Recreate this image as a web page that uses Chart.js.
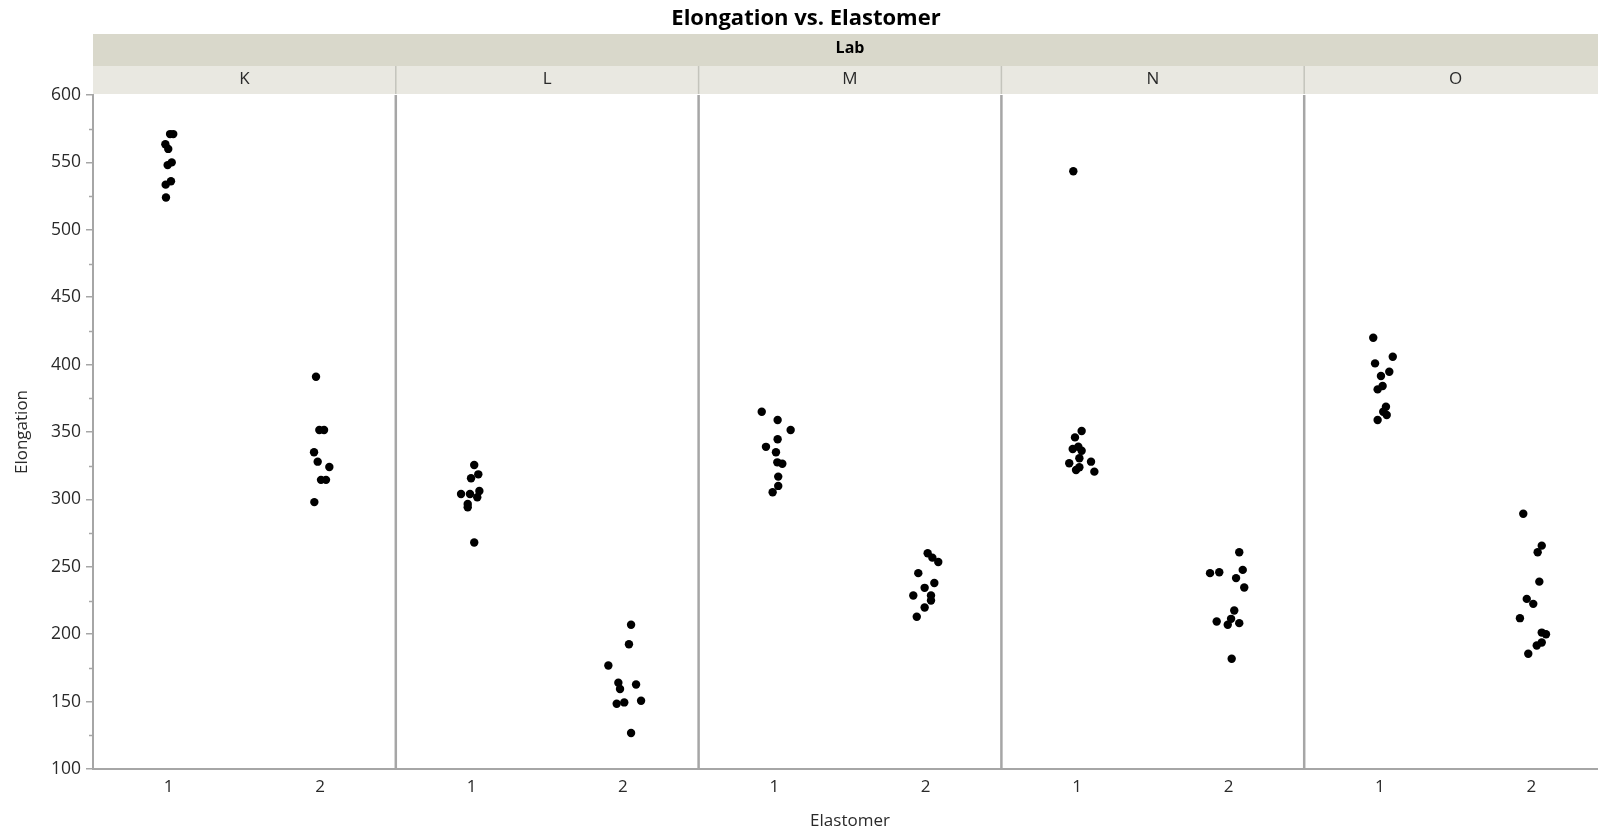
<!DOCTYPE html>
<html>
<head>
<meta charset="utf-8">
<script src="https://cdn.jsdelivr.net/npm/chart.js@4.4.1/dist/chart.umd.min.js"></script>
<style>
  html, body { margin: 0; padding: 0; background: #ffffff; overflow: hidden; }
  #wrap { position: absolute; left: 0; top: 0; width: 1612px; height: 832px; }
</style>
</head>
<body>
<div id="wrap"><canvas id="c" width="1612" height="832"></canvas></div>
<script>
// ---------------- DATA ----------------
const chartTitle = 'Elongation vs. Elastomer';
const facetTitle = 'Lab';
const labs = ['K', 'L', 'M', 'N', 'O'];
const elastomers = ['1', '2'];
const xAxisTitle = 'Elastomer';
const yAxisTitle = 'Elongation';
const yTickValues = [100, 150, 200, 250, 300, 350, 400, 450, 500, 550, 600];

// Elongation values per Lab / Elastomer
const K_1 = [571, 571, 563.5, 560, 548, 550, 533.5, 536, 524];
const K_2 = [391, 351.5, 351.5, 335, 328, 324, 314.5, 314.5, 298];
const L_1 = [325.5, 318.6, 315.7, 304, 304, 306.3, 301.6, 296.6, 294.2, 268];
const L_2 = [207, 192.6, 176.8, 164, 159.3, 162.7, 148.4, 149.4, 150.6, 126.7];
const M_1 = [365, 358.9, 351.5, 344.6, 339, 335, 327.5, 326.5, 316.9, 310, 305.3];
const M_2 = [260, 256.8, 253.6, 245.3, 238, 234.4, 228.7, 228.7, 225, 219.8, 212.9];
const N_1 = [543.4, 350.7, 346, 337.4, 339.1, 336.1, 330.5, 326.8, 321.8, 323.8, 328, 320.6];
const N_2 = [260.8, 245.3, 246, 247.7, 241.6, 234.6, 217.6, 211.4, 209.4, 207, 208.2, 181.8];
const O_1 = [419.9, 405.8, 400.9, 394.7, 391.5, 381.6, 384.1, 368.8, 365, 362.6, 358.9];
const O_2 = [289.4, 265.7, 260.8, 239, 226.2, 222.5, 211.9, 201.2, 200, 193.8, 191.6, 185.5];

// Horizontal jitter of each point (in category units)
const K_1_jit = [0.009, 0.030, -0.022, -0.003, -0.007, 0.020, -0.020, 0.015, -0.018];
const K_2_jit = [-0.027, -0.005, 0.026, -0.040, -0.016, 0.061, 0.006, 0.039, -0.038];
const L_1_jit = [0.018, 0.045, -0.003, -0.069, -0.010, 0.052, 0.038, -0.025, -0.025, 0.018];
const L_2_jit = [0.054, 0.040, -0.096, -0.030, -0.019, 0.087, -0.041, 0.009, 0.120, 0.054];
const M_1_jit = [-0.083, 0.022, 0.108, 0.022, -0.055, 0.011, 0.020, 0.053, 0.026, 0.026, -0.011];
const M_2_jit = [0.013, 0.044, 0.083, -0.049, 0.057, -0.007, -0.082, 0.035, 0.035, -0.007, -0.059];
const N_1_jit = [-0.025, 0.030, -0.014, -0.029, 0.008, 0.030, 0.015, -0.052, -0.007, 0.015, 0.092, 0.114];
const N_2_jit = [0.071, -0.122, -0.061, 0.094, 0.050, 0.104, 0.038, 0.017, -0.078, -0.005, 0.071, 0.021];
const O_1_jit = [-0.044, 0.085, -0.032, 0.062, 0.007, -0.015, 0.018, 0.040, 0.022, 0.045, -0.015];
const O_2_jit = [-0.053, 0.069, 0.042, 0.053, -0.030, 0.013, -0.075, 0.069, 0.097, 0.069, 0.036, -0.020];

const groups = {
  K: [[K_1, K_1_jit], [K_2, K_2_jit]],
  L: [[L_1, L_1_jit], [L_2, L_2_jit]],
  M: [[M_1, M_1_jit], [M_2, M_2_jit]],
  N: [[N_1, N_1_jit], [N_2, N_2_jit]],
  O: [[O_1, O_1_jit], [O_2, O_2_jit]]
};

// ---------------- BUILD ----------------
const FONT = "'Open Sans', 'Noto Sans', 'DejaVu Sans', sans-serif";
const catPos = (labIdx, elIdx) => labIdx * elastomers.length + elIdx + 0.5;

const points = [];
labs.forEach((lab, li) => {
  groups[lab].forEach(([vals, jit], ei) => {
    vals.forEach((v, k) => points.push({ x: catPos(li, ei) + jit[k], y: v }));
  });
});

const xTickPositions = [];
labs.forEach((lab, li) => elastomers.forEach((e, ei) => xTickPositions.push(catPos(li, ei))));

const decor = {
  id: 'decor',
  beforeDatasetsDraw(chart) {
    const { ctx, chartArea: a, scales: { x, y } } = chart;
    ctx.save();
    // panel separators
    ctx.strokeStyle = '#a6a6a6';
    ctx.lineWidth = 2.5;
    for (let i = 1; i < labs.length; i++) {
      const px = x.getPixelForValue(i * elastomers.length);
      ctx.beginPath();
      ctx.moveTo(px, a.top);
      ctx.lineTo(px, a.bottom);
      ctx.stroke();
    }
    // minor y ticks
    ctx.strokeStyle = '#a6a6a6';
    ctx.lineWidth = 1.5;
    for (let i = 0; i < yTickValues.length - 1; i++) {
      const v = (yTickValues[i] + yTickValues[i + 1]) / 2;
      const py = Math.round(y.getPixelForValue(v)) + 0.5;
      ctx.beginPath();
      ctx.moveTo(a.left - 4, py);
      ctx.lineTo(a.left, py);
      ctx.stroke();
    }
    ctx.restore();
  },
  afterDraw(chart) {
    const { ctx, chartArea: a, scales: { x, y }, width } = chart;
    ctx.save();
    // title
    ctx.fillStyle = '#000000';
    ctx.font = `bold 22px ${FONT}`;
    ctx.textAlign = 'center';
    ctx.textBaseline = 'middle';
    ctx.fillText(chartTitle, width / 2, 19);

    // facet header band
    const bandTop = 34, bandMid = 66, bandBot = 94;
    ctx.fillStyle = 'rgb(217,216,203)';
    ctx.fillRect(a.left, bandTop, a.right - a.left, bandMid - bandTop);
    ctx.fillStyle = 'rgb(233,232,225)';
    ctx.fillRect(a.left, bandMid, a.right - a.left, bandBot - bandMid);
    ctx.fillStyle = '#000000';
    ctx.font = `bold 16px ${FONT}`;
    ctx.fillText(facetTitle, (a.left + a.right) / 2, 48.5);

    // strip separators and labels
    ctx.strokeStyle = '#c4c4bc';
    ctx.lineWidth = 1.5;
    for (let i = 1; i < labs.length; i++) {
      const px = x.getPixelForValue(i * elastomers.length);
      ctx.beginPath();
      ctx.moveTo(px, bandMid);
      ctx.lineTo(px, bandBot);
      ctx.stroke();
    }
    ctx.fillStyle = '#2a2a2a';
    ctx.font = `17px ${FONT}`;
    labs.forEach((lab, li) => {
      const cx = x.getPixelForValue(li * elastomers.length + elastomers.length / 2);
      ctx.fillText(lab, cx, 79);
    });

    // axis titles
    ctx.font = `17px ${FONT}`;
    ctx.fillStyle = '#2a2a2a';
    ctx.fillText(xAxisTitle, (a.left + a.right) / 2, 821);
    ctx.translate(22.5, (a.top + a.bottom) / 2);
    ctx.rotate(-Math.PI / 2);
    ctx.fillText(yAxisTitle, 0, 0);
    ctx.restore();
  }
};

new Chart(document.getElementById('c'), {
  type: 'scatter',
  data: {
    datasets: [{
      data: points,
      backgroundColor: '#000000',
      borderWidth: 0,
      pointRadius: 4.2,
      pointHoverRadius: 4.2
    }]
  },
  options: {
    responsive: false,
    animation: false,
    devicePixelRatio: 1,
    layout: { padding: { top: 95, right: 5, left: 0, bottom: 0 } },
    plugins: { legend: { display: false }, tooltip: { enabled: false }, title: { display: false } },
    scales: {
      x: {
        type: 'linear',
        min: 0,
        max: labs.length * elastomers.length,
        afterBuildTicks: (s) => { s.ticks = xTickPositions.map(v => ({ value: v })); },
        afterFit: (s) => { s.height = 63; },
        grid: { display: false, drawTicks: false },
        border: { display: true, color: '#a6a6a6', width: 2 },
        ticks: {
          autoSkip: false,
          maxRotation: 0,
          padding: 8,
          color: '#2a2a2a',
          font: { family: FONT, size: 17 },
          callback: (v, i) => elastomers[i % elastomers.length]
        }
      },
      y: {
        min: yTickValues[0],
        max: yTickValues[yTickValues.length - 1],
        afterBuildTicks: (s) => { s.ticks = yTickValues.map(v => ({ value: v })); },
        afterFit: (s) => { s.width = 93; },
        grid: { drawOnChartArea: false, drawTicks: true, tickLength: 7, color: '#a6a6a6', lineWidth: 1.5 },
        border: { display: true, color: '#a6a6a6', width: 2 },
        ticks: {
          padding: 5,
          color: '#2a2a2a',
          font: { family: FONT, size: 17.5 },
          callback: (v) => String(v)
        }
      }
    }
  },
  plugins: [decor]
});
</script>
</body>
</html>
